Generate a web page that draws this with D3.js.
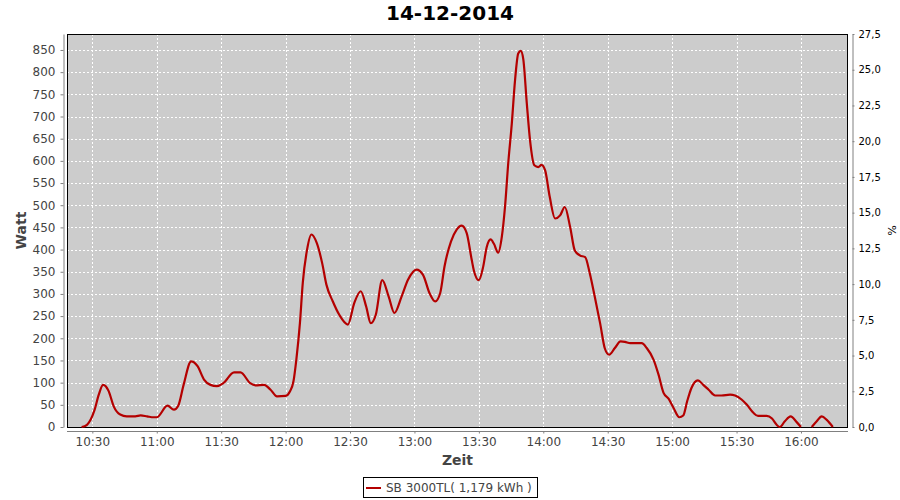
<!DOCTYPE html>
<html><head><meta charset="utf-8">
<script src="https://cdn.jsdelivr.net/npm/d3@7"></script>
<style>
body{margin:0;background:#fff;}
svg{font-family:"DejaVu Sans",sans-serif;}
</style></head>
<body><svg id="c" width="900" height="500"></svg>
<script>
const title = "14-12-2014";
const seriesName = "SB 3000TL( 1,179 kWh )";
const xLabel = "Zeit", yLabel = "Watt", y2Label = "%";
const times = ["10:25","10:27:30","10:31","10:33","10:35","10:37:30","10:40","10:43","10:46","10:50","10:52:30","10:55:30","10:58:30","11:00",
"11:05","11:08","11:10","11:12:30","11:16","11:19","11:22","11:25","11:28","11:31","11:36","11:39","11:43:30","11:46","11:50","11:53","11:56","12:00","12:02",
"12:03:40","12:05","12:06:40","12:08","12:10","12:12","12:14:30","12:17","12:19","12:22","12:25","12:29","12:32","12:35","12:37:30","12:39:40","12:42","12:45","12:48","12:50:40","12:54","12:57","13:01","13:04","13:07","13:09:40","13:12","13:14","13:17","13:19:40","13:22","13:24:20","13:26:40","13:27:40","13:30","13:32","13:33:40","13:35:30","13:37","13:39","13:40:40","13:42:10","13:43:40","13:45:20","13:46:50","13:48:20","13:49:30","13:50:40","13:52:20","13:53:50","13:55:50","13:57:40","13:59:10","14:00:50","14:03","14:05:30","14:07:50","14:10","14:12:30","14:14:40","14:17","14:19:30","14:21:40","14:24","14:26:30","14:28:40","14:30:40","14:33:20","14:36","14:38","14:40:30","14:45:50","14:48:10","14:51:20","14:53:40","14:56","14:58:20","15:00:40","15:03:20","15:05:10","15:07","15:09","15:12","15:14:30","15:17","15:20","15:23","15:27","15:29:20","15:32:20","15:34:50","15:37:50","15:40","15:44","15:46:30","15:48:40","15:50:10","15:52:30","15:55:10","15:58","16:00",
"16:02:30","16:05","16:07:20","16:09:40","16:12","16:14:50"];
const watts = [0,5,38,73,95,82,46,28,24,24,26,24,22,22,
48,39,48,95,148,137,107,95,92,99,123,123,99,94,95,84,69,70,80,
103,152,234,325,400,434,415,370,321,283,253,231,280,306,272,234,253,331,294,257,294,332,355,343,302,283,302,362,418,445,454,437,377,353,331,361,406,423,413,393,428,496,594,684,781,842,848,830,729,646,590,586,591,579,519,470,477,496,451,398,387,383,346,293,233,177,163,178,193,192,189,189,178,152,118,77,64,43,22,26,58,88,105,95,84,71,71,73,71,62,50,32,25,25,19,5,0,13,24,11,0,
null,0,13,24,16,0];
const leftTicks = [0,50,100,150,200,250,300,350,400,450,500,550,600,650,700,750,800,850];
const rightTicks = [0,2.5,5,7.5,10,12.5,15,17.5,20,22.5,25,27.5];
const xTicks = ["10:30","11:00","11:30","12:00","12:30","13:00","13:30","14:00","14:30","15:00","15:30","16:00"];

const toMin = s => { const p = s.split(":").map(Number); return p[0]*60 + p[1] + (p[2]||0)/60; };
const data = times.map((t,i)=>({t:toMin(t), v:watts[i]}));

const svg = d3.select("#c");
const L=67, R=848, T=34, B=427;
const x = d3.scaleLinear().domain([toMin("10:18:12"), toMin("16:21:54")]).range([L,R]);
const y = d3.scaleLinear().domain([0,886]).range([B,T]);
const y2 = d3.scaleLinear().domain([0,27.5]).range([B,T]);

svg.append("text").attr("x",450).attr("y",20).attr("text-anchor","middle")
  .attr("font-size",20).attr("font-weight","bold").attr("fill","#000").text(title);

svg.append("rect").attr("x",L).attr("y",T).attr("width",R-L).attr("height",B-T).attr("fill","#cccccc");
const g = svg.append("g");
g.selectAll(".vg").data(xTicks).join("line")
  .attr("x1",d=>Math.round(x(toMin(d)))+0.5).attr("x2",d=>Math.round(x(toMin(d)))+0.5)
  .attr("y1",T).attr("y2",B).attr("stroke","#fff").attr("stroke-dasharray","2,2");
g.selectAll(".hg").data(leftTicks.filter(d=>d>0)).join("line")
  .attr("x1",L).attr("x2",R).attr("y1",d=>Math.round(y(d))+0.5).attr("y2",d=>Math.round(y(d))+0.5)
  .attr("stroke","#fff").attr("stroke-dasharray","2,2");
svg.append("rect").attr("x",L+0.5).attr("y",T+0.5).attr("width",R-L-1).attr("height",B-T).attr("fill","none").attr("stroke","#000");

function styleAxis(sel, color, fs){
  sel.select(".domain").attr("stroke","#808080");
  sel.selectAll(".tick line").attr("stroke","#808080");
  sel.selectAll(".tick text").attr("fill",color).attr("font-size",fs).attr("font-family","DejaVu Sans, sans-serif");
}
const ax = svg.append("g").attr("transform","translate(0,431.5)")
  .call(d3.axisBottom(x).tickValues(xTicks.map(toMin)).tickFormat((d,i)=>xTicks[i]).tickSize(2).tickSizeOuter(0).tickPadding(4));
ax.select(".domain").attr("d",`M${L},0H${R}`);
styleAxis(ax,"#444",12);
const ay = svg.append("g").attr("transform","translate(63.5,0)")
  .call(d3.axisLeft(y).tickValues(leftTicks).tickSize(3).tickSizeOuter(0).tickPadding(5));
styleAxis(ay,"#444",12);
const ay2 = svg.append("g").attr("transform","translate(852.5,0)")
  .call(d3.axisRight(y2).tickValues(rightTicks).tickFormat(d=>d3.format(".1f")(d).replace(".",",")).tickSize(2).tickSizeOuter(0).tickPadding(4));
styleAxis(ay2,"#000",10);

svg.append("text").attr("x",(L+R)/2).attr("y",465).attr("text-anchor","middle")
  .attr("font-size",14).attr("font-weight","bold").attr("fill","#444").text(xLabel);
svg.append("text").attr("transform",`translate(26,${(T+B)/2}) rotate(-90)`).attr("text-anchor","middle")
  .attr("font-size",14).attr("font-weight","bold").attr("fill","#444").text(yLabel);
svg.append("text").attr("transform",`translate(888,${(T+B)/2}) rotate(90)`).attr("text-anchor","middle")
  .attr("font-size",11).attr("fill","#000").text(y2Label);

const line = d3.line().defined(d=>d.v!=null).x(d=>x(d.t)).y(d=>y(d.v)).curve(d3.curveMonotoneX);
svg.append("path").datum(data).attr("d",line).attr("fill","none").attr("stroke","#b40000")
  .attr("stroke-width",2.2).attr("stroke-linejoin","round");

const lg = svg.append("g");
lg.append("rect").attr("x",363.5).attr("y",477.5).attr("width",174).attr("height",20).attr("fill","#fff").attr("stroke","#000");
lg.append("line").attr("x1",366).attr("x2",381).attr("y1",488).attr("y2",488).attr("stroke","#b40000").attr("stroke-width",2);
lg.append("text").attr("x",386).attr("y",492).attr("font-size",12).attr("fill","#444").text(seriesName);
</script></body></html>
